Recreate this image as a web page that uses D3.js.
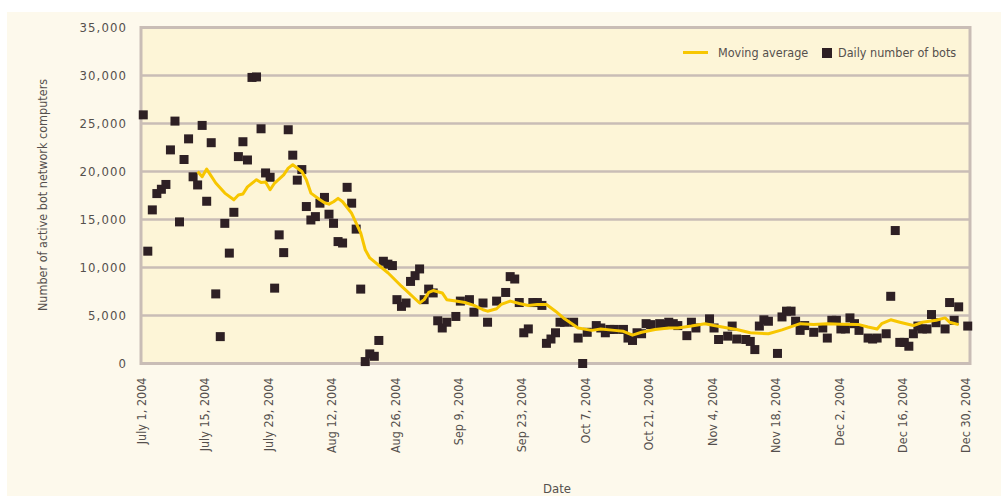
<!DOCTYPE html>
<html lang="en">
<head>
  <meta charset="UTF-8">
  <title>Active bot network computers</title>
  <style>
    body { margin: 0; background: #ffffff; }
    svg { display: block; }
    text { font-family: "DejaVu Sans Condensed", "DejaVu Sans", sans-serif; fill: #55504d; }
  </style>
</head>
<body>
  <div class="container"></div>
  <script src="https://d3js.org/d3.v7.min.js"></script>
  <script>
    // daily number of bots: day offset from July 1, 2004 and value
    let botDays = [0, 1, 2, 3, 4, 5, 6, 7, 8, 9, 10, 11, 12, 13, 14, 15, 16, 17, 18, 19,
      20, 21, 22, 23, 24, 25, 26, 27, 28, 29, 30, 31, 32, 33, 34, 35, 36, 37, 38, 39,
      40, 41, 42, 43, 44, 45, 46, 47, 48, 49, 50, 51, 52, 53, 54, 55, 56, 57, 58, 59,
      60, 61, 62, 63, 64, 65, 66, 67, 69, 70, 72, 73, 75, 76, 78, 80, 81, 82, 83, 84,
      85, 86, 87, 88, 89, 90, 91, 92, 93, 95, 96, 97, 98, 100, 101, 102, 103, 104, 106, 107,
      108, 109, 110, 111, 112, 114, 115, 116, 117, 118, 120, 121, 122, 125, 126, 127, 129, 130, 131, 133,
      134, 135, 136, 137, 138, 140, 141, 142, 143, 144, 145, 146, 148, 150, 151, 152, 153, 154, 155, 156,
      157, 158, 160, 161, 162, 164, 165, 166, 167, 168, 169, 170, 171, 172, 173, 174, 175, 177, 178, 179,
      180, 182]
    let botValues = [25900, 11700, 16000, 17700, 18150, 18650, 22250, 25250, 14750, 21250,
      23400, 19450, 18600, 24800, 16900, 23000, 7250, 2800, 14600, 11500,
      15750, 21550, 23100, 21200, 29800, 29850, 24450, 19850, 19400, 7850,
      13400, 11550, 24350, 21700, 19100, 20200, 16350, 14950, 15300, 16700,
      17300, 15550, 14600, 12700, 12550, 18350, 16700, 14000, 7750, 200,
      1000, 750, 2400, 10650, 10350, 10200, 6650, 5950, 6300, 8550,
      9150, 9850, 6650, 7750, 7350, 4450, 3700, 4300, 4900, 6500,
      6650, 5350, 6300, 4300, 6500, 7400, 9050, 8800, 6350, 3200,
      3600, 6350, 6350, 6050, 2100, 2550, 3200, 4300, 4300, 4300,
      2650, 0, 3250, 3950, 3700, 3200, 3550, 3550, 3550, 2650,
      2400, 3200, 3100, 4150, 4050, 4150, 4050, 4300, 4150, 3950,
      2900, 4300, 3700, 4650, 3700, 2500, 2850, 3900, 2550, 2500,
      2300, 1450, 3900, 4550, 4400, 1050, 4850, 5450, 5450, 4400,
      3450, 3950, 3250, 3700, 2650, 4500, 4500, 3600, 3600, 4750,
      4150, 3450, 2650, 2550, 2650, 3100, 7000, 13850, 2200, 2200,
      1800, 3100, 3900, 3600, 3600, 5100, 4250, 3600, 6350, 4500,
      5900, 3900]

    // moving average
    let avgDays = [12, 13, 14, 16, 18, 20, 21, 22, 23, 25, 26, 27, 28, 29, 31, 32, 33, 35, 36, 37,
      39, 40, 41, 42, 43, 44, 46, 48, 49, 50, 54, 57, 61, 62, 63, 64, 66, 67, 69, 71,
      73, 75, 76, 78, 79, 81, 83, 85, 87, 89, 91, 93, 96, 99, 101, 104, 106, 108, 110, 113,
      116, 118, 121, 124, 126, 129, 131, 134, 138, 141, 145, 148, 151, 154, 158, 160, 162, 163, 165, 167,
      170, 172, 175, 177, 178, 180]
    let avgValues = [20000, 19450, 20250, 18800, 17750, 17050, 17550, 17650, 18400, 19150,
      18850, 18900, 18100, 18800, 19650, 20350, 20700, 20000, 19150, 17750,
      17050, 16750, 16600, 16850, 17200, 16850, 15650, 13600, 11850, 11000,
      9450, 8050, 6300, 6650, 7400, 7600, 7350, 6650, 6500, 6350,
      6050, 5600, 5450, 5700, 6150, 6500, 6250, 6050, 6150, 6150,
      5450, 4650, 3700, 3450, 3600, 3450, 3350, 2950, 3250, 3550,
      3700, 3700, 3900, 4150, 3950, 3700, 3550, 3200, 3100, 3500,
      4150, 4050, 4150, 4100, 4050, 3800, 3600, 4150, 4550, 4300,
      3950, 4300, 4500, 4750, 4300, 4050]

    let tickLabels = ['July 1, 2004', 'July 15, 2004', 'July 29, 2004', 'Aug 12, 2004', 'Aug 26, 2004',
      'Sep 9, 2004', 'Sep 23, 2004', 'Oct 7, 2004', 'Oct 21, 2004', 'Nov 4, 2004', 'Nov 18, 2004',
      'Dec 2, 2004', 'Dec 16, 2004', 'Dec 30, 2004']
    let yTicks = [0, 5000, 10000, 15000, 20000, 25000, 30000, 35000]

    let start = new Date(2004, 6, 1)
    let day = n => d3.timeDay.offset(start, n)

    let W = 1001, H = 496
    let gold = '#f7c600', ink = '#2e2024', frame = '#c9bdb6'

    let svg = d3.select('.container').append('svg')
      .attr('width', W)
      .attr('height', H)

    // page background
    svg.append('rect').attr('x', 7).attr('y', 12).attr('width', W - 7).attr('height', H - 12)
      .attr('fill', '#fdf9ec')

    let x = d3.scaleTime()
      .domain([start, day(183)])
      .range([141, 970])
    let y = d3.scaleLinear()
      .domain([0, 35000])
      .range([363.5, 27.5])

    // plot area
    svg.append('rect')
      .attr('x', x.range()[0]).attr('y', y(35000))
      .attr('width', x.range()[1] - x.range()[0]).attr('height', y(0) - y(35000))
      .attr('fill', '#fdf5d7')

    // grid lines
    svg.append('g')
      .selectAll('line')
      .data(yTicks)
      .enter()
      .append('line')
      .attr('x1', x.range()[0]).attr('x2', x.range()[1])
      .attr('y1', d => y(d)).attr('y2', d => y(d))
      .attr('stroke', frame)
      .attr('stroke-width', 2.5)

    svg.append('rect')
      .attr('x', x.range()[0]).attr('y', y(35000))
      .attr('width', x.range()[1] - x.range()[0]).attr('height', y(0) - y(35000))
      .attr('fill', 'none')
      .attr('stroke', frame)
      .attr('stroke-width', 3)

    // y axis
    let yAxis = d3.axisLeft(y)
      .tickValues(yTicks)
      .tickSize(0)
      .tickPadding(0)
      .tickFormat(d3.format(','))
    let yg = svg.append('g')
      .attr('transform', 'translate(127, 0)')
      .call(yAxis)
    yg.select('.domain').remove()
    yg.selectAll('text')
      .style('font-size', '13px')
      .style('letter-spacing', '1.1px')
      .style('font-family', '"DejaVu Sans Condensed", sans-serif')
      .attr('fill', '#55504d')

    // x axis
    let xAxis = d3.axisBottom(x)
      .tickValues(tickLabels.map((t, i) => day(i * 14)))
      .tickSize(0)
      .tickFormat((d, i) => tickLabels[i])
    let xg = svg.append('g')
      .attr('transform', `translate(0, ${y(0)})`)
      .call(xAxis)
    xg.select('.domain').remove()
    xg.selectAll('text')
      .attr('transform', 'rotate(-90)')
      .attr('text-anchor', 'end')
      .attr('x', -14)
      .attr('y', 0)
      .attr('dy', '0.35em')
      .style('font-size', '12.5px')
      .style('font-family', '"DejaVu Sans Condensed", sans-serif')
      .attr('fill', '#55504d')

    // axis titles
    svg.append('text')
      .attr('transform', 'translate(47, 195) rotate(-90)')
      .attr('text-anchor', 'middle')
      .style('font-size', '12.5px')
      .text('Number of active bot network computers')
    svg.append('text')
      .attr('x', 557).attr('y', 493)
      .attr('text-anchor', 'middle')
      .style('font-size', '13px')
      .text('Date')

    // daily points
    let half = d => d3.timeHour.offset(day(d), 12)
    svg.append('g')
      .selectAll('.bot')
      .data(botDays)
      .enter()
      .append('rect')
      .attr('class', 'bot')
      .attr('x', d => x(half(d)) - 4.5)
      .attr('y', (d, i) => y(botValues[i]) - 4.5)
      .attr('width', 9)
      .attr('height', 9)
      .attr('fill', ink)

    // moving average line
    let line = d3.line()
      .x(d => x(half(d)))
      .y((d, i) => y(avgValues[i]))
      .curve(d3.curveLinear)
    svg.append('path')
      .datum(avgDays)
      .attr('d', line)
      .attr('fill', 'none')
      .attr('stroke', gold)
      .attr('stroke-width', 3)
      .attr('stroke-linejoin', 'round')

    // legend
    let lg = svg.append('g')
    lg.append('line')
      .attr('x1', 683).attr('x2', 708).attr('y1', 52.5).attr('y2', 52.5)
      .attr('stroke', gold).attr('stroke-width', 3)
    lg.append('text')
      .attr('x', 718).attr('y', 57)
      .style('font-size', '12.5px')
      .text('Moving average')
    lg.append('rect')
      .attr('x', 822).attr('y', 48).attr('width', 10).attr('height', 10)
      .attr('fill', ink)
    lg.append('text')
      .attr('x', 838).attr('y', 57)
      .style('font-size', '12.5px')
      .text('Daily number of bots')
  </script>
</body>
</html>
